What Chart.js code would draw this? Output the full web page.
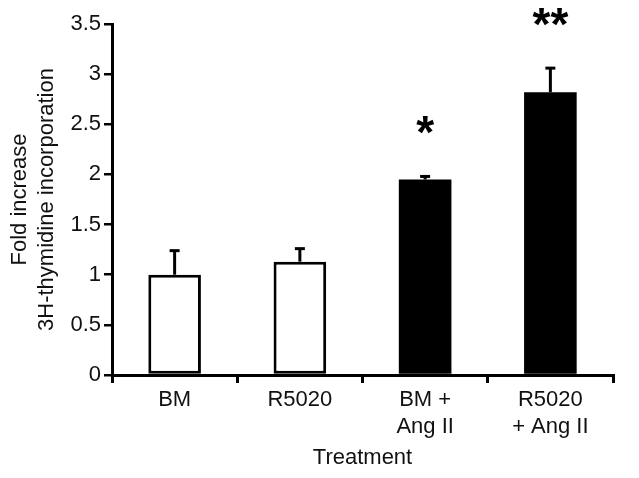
<!DOCTYPE html>
<html>
<head>
<meta charset="utf-8">
<script src="https://cdn.jsdelivr.net/npm/chart.js@4"></script>
<style>
html,body{margin:0;padding:0;background:#fff;}
#wrap{width:639px;height:478px;position:relative;}
</style>
</head>
<body>
<div id="wrap"><canvas id="c" width="639" height="478"></canvas></div>
<script>
const categories = [['BM'], ['R5020'], ['BM +', 'Ang II'], ['R5020', '+ Ang II']];
const foldIncrease = [1.0, 1.13, 1.95, 2.82];
const errorUpper = [0.24, 0.13, 0.03, 0.24];
const significance = ['', '', '*', '**'];
const barFill = ['#ffffff', '#ffffff', '#000000', '#000000'];
const barBorder = [3, 3, 0, 0];
const yTickLabels = ['0', '0.5', '1', '1.5', '2', '2.5', '3', '3.5'];
const yTitle = ['Fold increase', '3H-thymidine incorporation'];
const xTitle = 'Treatment';

const FONT = "'Liberation Sans', Arial, sans-serif";

const errorBarPlugin = {
  id: 'errorBars',
  afterDatasetsDraw(chart) {
    const ctx = chart.ctx;
    const meta = chart.getDatasetMeta(0);
    const y = chart.scales.y;
    ctx.save();
    ctx.strokeStyle = '#000';
    ctx.fillStyle = '#000';
    meta.data.forEach((bar, i) => {
      const top = y.getPixelForValue(foldIncrease[i] + errorUpper[i]);
      const base = y.getPixelForValue(foldIncrease[i]);
      ctx.lineWidth = 3;
      ctx.beginPath();
      ctx.moveTo(bar.x, base);
      ctx.lineTo(bar.x, top);
      ctx.stroke();
      ctx.beginPath();
      ctx.moveTo(bar.x - 5, top);
      ctx.lineTo(bar.x + 5, top);
      ctx.stroke();
      if (significance[i]) {
        ctx.font = 'bold 46px ' + FONT;
        ctx.textAlign = 'center';
        ctx.textBaseline = 'alphabetic';
        ctx.fillText(significance[i], bar.x, top - 28);
      }
    });
    ctx.restore();
  }
};

new Chart(document.getElementById('c'), {
  type: 'bar',
  data: {
    labels: categories,
    datasets: [{
      data: foldIncrease,
      backgroundColor: barFill,
      borderColor: '#000',
      borderWidth: barBorder,
      borderSkipped: false,
      barPercentage: 0.42,
      categoryPercentage: 1.0
    }]
  },
  options: {
    responsive: false,
    animation: false,
    devicePixelRatio: 1,
    layout: { padding: { top: 24, right: 26, left: 0, bottom: 0 } },
    plugins: { legend: { display: false }, tooltip: { enabled: false } },
    scales: {
      x: {
        afterFit(s) { s.height = 103; },
        grid: { offset: true, drawOnChartArea: false, drawTicks: true, tickLength: 8, color: '#000', lineWidth: 3 },
        border: { display: true, color: '#000', width: 3 },
        ticks: { color: '#111', font: { family: FONT, size: 22, lineHeight: 1.22 }, padding: 4, maxRotation: 0, autoSkip: false },
        title: { display: true, text: xTitle, color: '#111', font: { family: FONT, size: 22 }, padding: { top: 0, bottom: 7 } }
      },
      y: {
        min: 0, max: 3.5,
        afterFit(s) { s.width = 112; },
        grid: { drawOnChartArea: false, drawTicks: true, tickLength: 8, color: '#000', lineWidth: 2.5 },
        border: { display: true, color: '#000', width: 3 },
        ticks: {
          stepSize: 0.5, color: '#111', font: { family: FONT, size: 22 }, padding: 3,
          callback: (v, i) => yTickLabels[i]
        },
        title: { display: true, text: yTitle, color: '#111', font: { family: FONT, size: 22 }, padding: { top: 7, bottom: 0 } }
      }
    }
  },
  plugins: [errorBarPlugin]
});
</script>
</body>
</html>
